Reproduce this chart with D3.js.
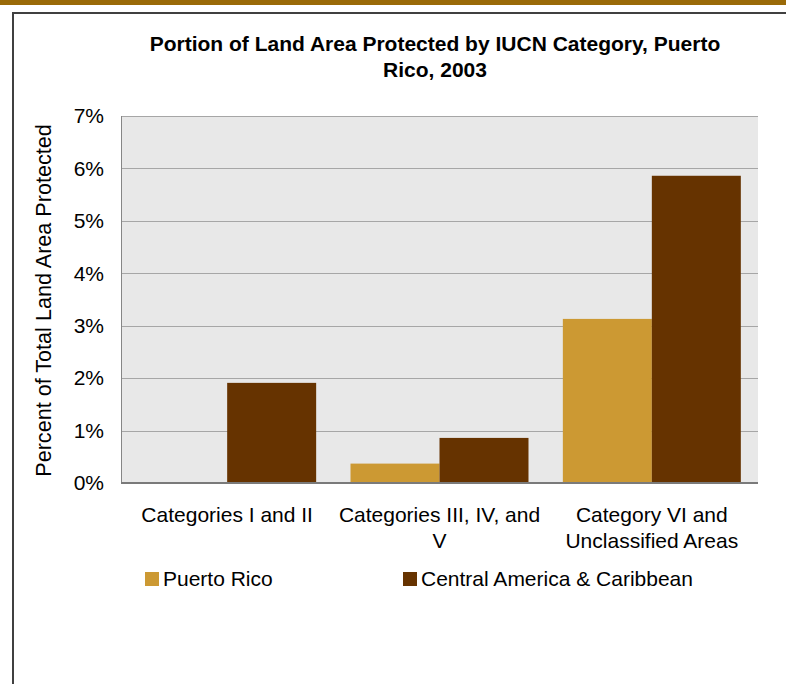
<!DOCTYPE html>
<html>
<head>
<meta charset="utf-8">
<script src="https://cdn.jsdelivr.net/npm/d3@7"></script>
<style>
  body { margin: 0; background: #fff; }
  text { font-family: "Liberation Sans", Arial, sans-serif; fill: #000; }
</style>
</head>
<body>
<div id="chart"></div>
<script>
var categories = ["Categories I and II", "Categories III, IV, and V", "Category VI and Unclassified Areas"];
var categoryLines = [
  ["Categories I and II"],
  ["Categories III, IV, and", "V"],
  ["Category VI and", "Unclassified Areas"]
];
var seriesNames = ["Puerto Rico", "Central America & Caribbean"];
var puertoRico = [0, 0.0037, 0.0313];
var centralAmerica = [0.0191, 0.0086, 0.0586];
var yTicks = [0, 0.01, 0.02, 0.03, 0.04, 0.05, 0.06, 0.07];
var titleLines = ["Portion of Land Area Protected by IUCN Category, Puerto", "Rico, 2003"];

var colors = ["#cc9933", "#663300"];

var w = 786;
var h = 684;

var svg = d3.select("#chart")
  .append("svg")
  .attr("width", w)
  .attr("height", h);

// gold strip and outer frame
svg.append("rect")
  .attr("x", 0)
  .attr("y", 0)
  .attr("width", w)
  .attr("height", 5)
  .attr("fill", "#9a6a08");

svg.append("rect")
  .attr("x", 13)
  .attr("y", 13)
  .attr("width", w + 20)
  .attr("height", h + 20)
  .attr("fill", "none")
  .attr("stroke", "#404040")
  .attr("stroke-width", 2);

var plot = { left: 121, right: 758, top: 116, bottom: 483 };

var yScale = d3.scaleLinear()
  .domain([0, 0.07])
  .range([plot.bottom, plot.top]);

var x0 = d3.scaleBand()
  .domain(categories)
  .range([plot.left, plot.right])
  .padding(0);

var x1 = d3.scaleBand()
  .domain(seriesNames)
  .range([0, x0.bandwidth()])
  .paddingInner(0)
  .paddingOuter(0.193);

svg.append("rect")
  .attr("x", plot.left)
  .attr("y", plot.top)
  .attr("width", plot.right - plot.left)
  .attr("height", plot.bottom - plot.top)
  .attr("fill", "#e8e8e8");

// gridlines
svg.selectAll("line.grid")
  .data(yTicks.slice(1))
  .enter()
  .append("line")
  .attr("class", "grid")
  .attr("x1", plot.left)
  .attr("x2", plot.right)
  .attr("y1", function(d) { return Math.round(yScale(d)) + 0.5; })
  .attr("y2", function(d) { return Math.round(yScale(d)) + 0.5; })
  .attr("stroke", "#a6a6a6")
  .attr("stroke-width", 1);

// y tick labels
var yAxis = d3.axisLeft(yScale)
  .tickValues(yTicks)
  .tickFormat(d3.format(".0%"))
  .tickSize(0)
  .tickPadding(17);

var yAxisG = svg.append("g")
  .attr("transform", "translate(" + plot.left + ",0)")
  .call(yAxis);

yAxisG.select(".domain").remove();
yAxisG.selectAll("text")
  .style("font-family", "'Liberation Sans', Arial, sans-serif")
  .style("font-size", "21px")
  .attr("fill", "#000");

// bars
var data = categories.map(function(c, i) {
  return { cat: c, values: [puertoRico[i], centralAmerica[i]] };
});

var groups = svg.selectAll("g.cat")
  .data(data)
  .enter()
  .append("g")
  .attr("class", "cat")
  .attr("transform", function(d) { return "translate(" + x0(d.cat) + ",0)"; });

groups.selectAll("rect")
  .data(function(d) {
    return d.values.map(function(v, j) { return { name: seriesNames[j], value: v, idx: j }; });
  })
  .enter()
  .append("rect")
  .attr("x", function(d) { return x1(d.name); })
  .attr("y", function(d) { return yScale(d.value); })
  .attr("width", x1.bandwidth())
  .attr("height", function(d) { return yScale(0) - yScale(d.value); })
  .attr("fill", function(d) { return colors[d.idx]; });

// axis lines
svg.append("line")
  .attr("x1", plot.left + 0.5)
  .attr("x2", plot.left + 0.5)
  .attr("y1", plot.top)
  .attr("y2", plot.bottom)
  .attr("stroke", "#868686")
  .attr("stroke-width", 1);

svg.append("line")
  .attr("x1", plot.left)
  .attr("x2", plot.right)
  .attr("y1", plot.bottom)
  .attr("y2", plot.bottom)
  .attr("stroke", "#7a7a7a")
  .attr("stroke-width", 2);

// category labels
var catLabels = svg.selectAll("text.catLabel")
  .data(categoryLines)
  .enter()
  .append("text")
  .attr("class", "catLabel")
  .attr("text-anchor", "middle")
  .style("font-size", "21px");

catLabels.selectAll("tspan")
  .data(function(d, i) {
    return d.map(function(line) { return { line: line, cat: categories[i] }; });
  })
  .enter()
  .append("tspan")
  .attr("x", function(d) { return x0(d.cat) + x0.bandwidth() / 2; })
  .attr("y", function(d, k) { return 522 + k * 26; })
  .text(function(d) { return d.line; });

// title
svg.selectAll("text.title")
  .data(titleLines)
  .enter()
  .append("text")
  .attr("class", "title")
  .attr("x", 435)
  .attr("y", function(d, i) { return 51 + i * 26; })
  .attr("text-anchor", "middle")
  .style("font-size", "21px")
  .style("font-weight", "bold")
  .text(function(d) { return d; });

// y axis title
svg.append("text")
  .attr("transform", "translate(51," + ((plot.top + plot.bottom) / 2 + 1) + ") rotate(-90)")
  .attr("text-anchor", "middle")
  .style("font-size", "21.6px")
  .text("Percent of Total Land Area Protected");

// legend
var legendX = [145, 403];
var legend = svg.selectAll("g.legend")
  .data(seriesNames)
  .enter()
  .append("g")
  .attr("class", "legend")
  .attr("transform", function(d, i) { return "translate(" + legendX[i] + ",572)"; });

legend.append("rect")
  .attr("width", 14)
  .attr("height", 14)
  .attr("fill", function(d, i) { return colors[i]; });

legend.append("text")
  .attr("x", 18)
  .attr("y", 14)
  .style("font-size", "21px")
  .text(function(d) { return d; });
</script>
</body>
</html>
